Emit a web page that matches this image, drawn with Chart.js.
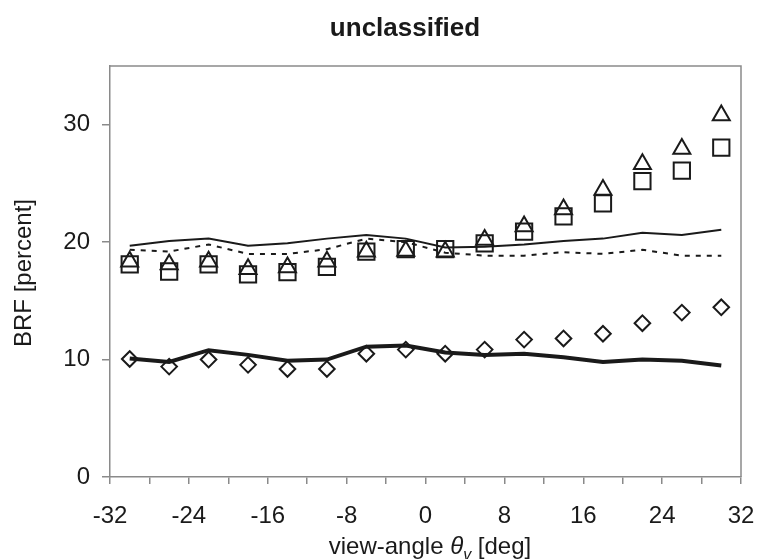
<!DOCTYPE html>
<html>
<head>
<meta charset="utf-8">
<script src="https://cdn.jsdelivr.net/npm/chart.js@4"></script>
<style>
  body { margin: 0; background: #fff; }
  #wrap { width: 757px; height: 559px; }
</style>
</head>
<body>
<div id="wrap"><canvas id="brfChart" width="757" height="559"></canvas></div>
<script>
// view angles (deg)
const angles = [-30, -26, -22, -18, -14, -10, -6, -2, 2, 6, 10, 14, 18, 22, 26, 30];

// modelled BRF curves
const thickLine = [10.1, 9.8, 10.8, 10.4, 9.9, 10.0, 11.1, 11.2, 10.6, 10.4, 10.5, 10.2, 9.8, 10.0, 9.9, 9.5];
const thinLine = [19.7, 20.1, 20.3, 19.7, 19.9, 20.3, 20.6, 20.3, 19.55, 19.6, 19.8, 20.1, 20.3, 20.8, 20.6, 21.05];
const dottedLine = [19.35, 19.2, 19.8, 19.0, 19.0, 19.4, 20.3, 20.0, 19.1, 18.85, 18.85, 19.15, 19.0, 19.35, 18.85, 18.85];

// measured BRF
const squares = [18.1, 17.5, 18.1, 17.25, 17.45, 17.9, 19.2, 19.4, 19.4, 19.9, 20.9, 22.2, 23.3, 25.2, 26.1, 28.05];
const triangles = [18.35, 18.1, 18.35, 17.7, 17.85, 18.35, 19.2, 19.25, 19.2, 20.2, 21.35, 22.8, 24.45, 26.65, 27.95, 30.8];
const diamonds = [10.05, 9.4, 10.0, 9.55, 9.2, 9.2, 10.5, 10.85, 10.5, 10.85, 11.7, 11.8, 12.2, 13.1, 14.0, 14.45];

const xTicks = [-32, -24, -16, -8, 0, 8, 16, 24, 32];
const yTicks = [0, 10, 20, 30];

const pts = arr => arr.map((v, i) => ({ x: angles[i], y: v }));
const ink = '#1a1a1a';
const axisGray = '#8a8a8a';
const FONT = '"Liberation Sans", Arial, sans-serif';

const frameAndTitles = {
  id: 'frameAndTitles',
  afterDraw(chart) {
    const { ctx, chartArea: a } = chart;
    ctx.save();
    ctx.strokeStyle = axisGray;
    ctx.lineWidth = 1.5;
    ctx.beginPath();
    ctx.moveTo(a.left, a.top);
    ctx.lineTo(a.right, a.top);
    ctx.lineTo(a.right, a.bottom);
    ctx.stroke();

    ctx.fillStyle = ink;
    ctx.textAlign = 'center';
    ctx.textBaseline = 'middle';
    ctx.font = 'bold 26px ' + FONT;
    ctx.fillText('unclassified', 405, 29);

    // y title
    ctx.save();
    ctx.translate(24, 273);
    ctx.rotate(-Math.PI / 2);
    ctx.font = '24px ' + FONT;
    ctx.fillText('BRF [percent]', 0, 0);
    ctx.restore();

    // x title with italic theta and subscript v
    const parts = [
      { t: 'view-angle ', f: '24px ' + FONT, dy: 0 },
      { t: '\u03B8', f: 'italic 24px ' + FONT, dy: 0 },
      { t: 'v', f: 'italic 16px ' + FONT, dy: 6 },
      { t: ' [deg]', f: '24px ' + FONT, dy: 0 }
    ];
    let total = 0;
    parts.forEach(p => { ctx.font = p.f; p.w = ctx.measureText(p.t).width; total += p.w; });
    let x = 430 - total / 2;
    ctx.textAlign = 'left';
    ctx.textBaseline = 'alphabetic';
    parts.forEach(p => { ctx.font = p.f; ctx.fillText(p.t, x, 554 + p.dy); x += p.w; });
    ctx.restore();
  }
};

new Chart(document.getElementById('brfChart').getContext('2d'), {
  type: 'scatter',
  data: {
    datasets: [
      {
        data: pts(thickLine), showLine: true, borderColor: ink, borderWidth: 4,
        pointRadius: 0, fill: false
      },
      {
        data: pts(thinLine), showLine: true, borderColor: ink, borderWidth: 2,
        pointRadius: 0, fill: false
      },
      {
        data: pts(dottedLine), showLine: true, borderColor: ink, borderWidth: 2,
        borderDash: [5, 6], pointRadius: 0, fill: false
      },
      {
        data: pts(squares), pointStyle: 'rect', pointRadius: 11.5,
        borderColor: ink, borderWidth: 2, backgroundColor: 'rgba(0,0,0,0)'
      },
      {
        data: pts(triangles), pointStyle: 'triangle', pointRadius: 9.8,
        borderColor: ink, borderWidth: 2, backgroundColor: 'rgba(0,0,0,0)'
      },
      {
        data: pts(diamonds), pointStyle: 'rectRot', pointRadius: 7.8,
        borderColor: ink, borderWidth: 2, backgroundColor: '#fff'
      }
    ]
  },
  options: {
    responsive: false,
    animation: false,
    layout: { padding: { top: 66, right: 16, left: 0, bottom: 0 } },
    plugins: { legend: { display: false }, tooltip: { enabled: false } },
    scales: {
      x: {
        type: 'linear', min: -32, max: 32,
        afterFit: s => { s.height = 82; s.paddingLeft = 0; s.paddingRight = 0; },
        afterBuildTicks: s => { s.ticks = xTicks.flatMap(v => v < 32 ? [{ value: v }, { value: v + 4 }] : [{ value: v }]); },
        grid: { drawOnChartArea: false, color: axisGray, tickLength: 7, lineWidth: 1.5 },
        border: { color: axisGray, width: 1.5 },
        ticks: {
          autoSkip: false, maxRotation: 0, padding: 18, color: ink,
          font: { family: FONT, size: 24 },
          callback: v => (xTicks.includes(v) ? String(v) : '')
        }
      },
      y: {
        type: 'linear', min: 0, max: 35,
        afterFit: s => { s.width = 110; s.paddingTop = 0; s.paddingBottom = 0; },
        afterBuildTicks: s => { s.ticks = yTicks.map(v => ({ value: v })); },
        grid: { drawOnChartArea: false, color: axisGray, tickLength: 8, lineWidth: 1.5 },
        border: { color: axisGray, width: 1.5 },
        ticks: {
          padding: 12, color: ink,
          font: { family: FONT, size: 24 }
        }
      }
    }
  },
  plugins: [frameAndTitles]
});
</script>
</body>
</html>
